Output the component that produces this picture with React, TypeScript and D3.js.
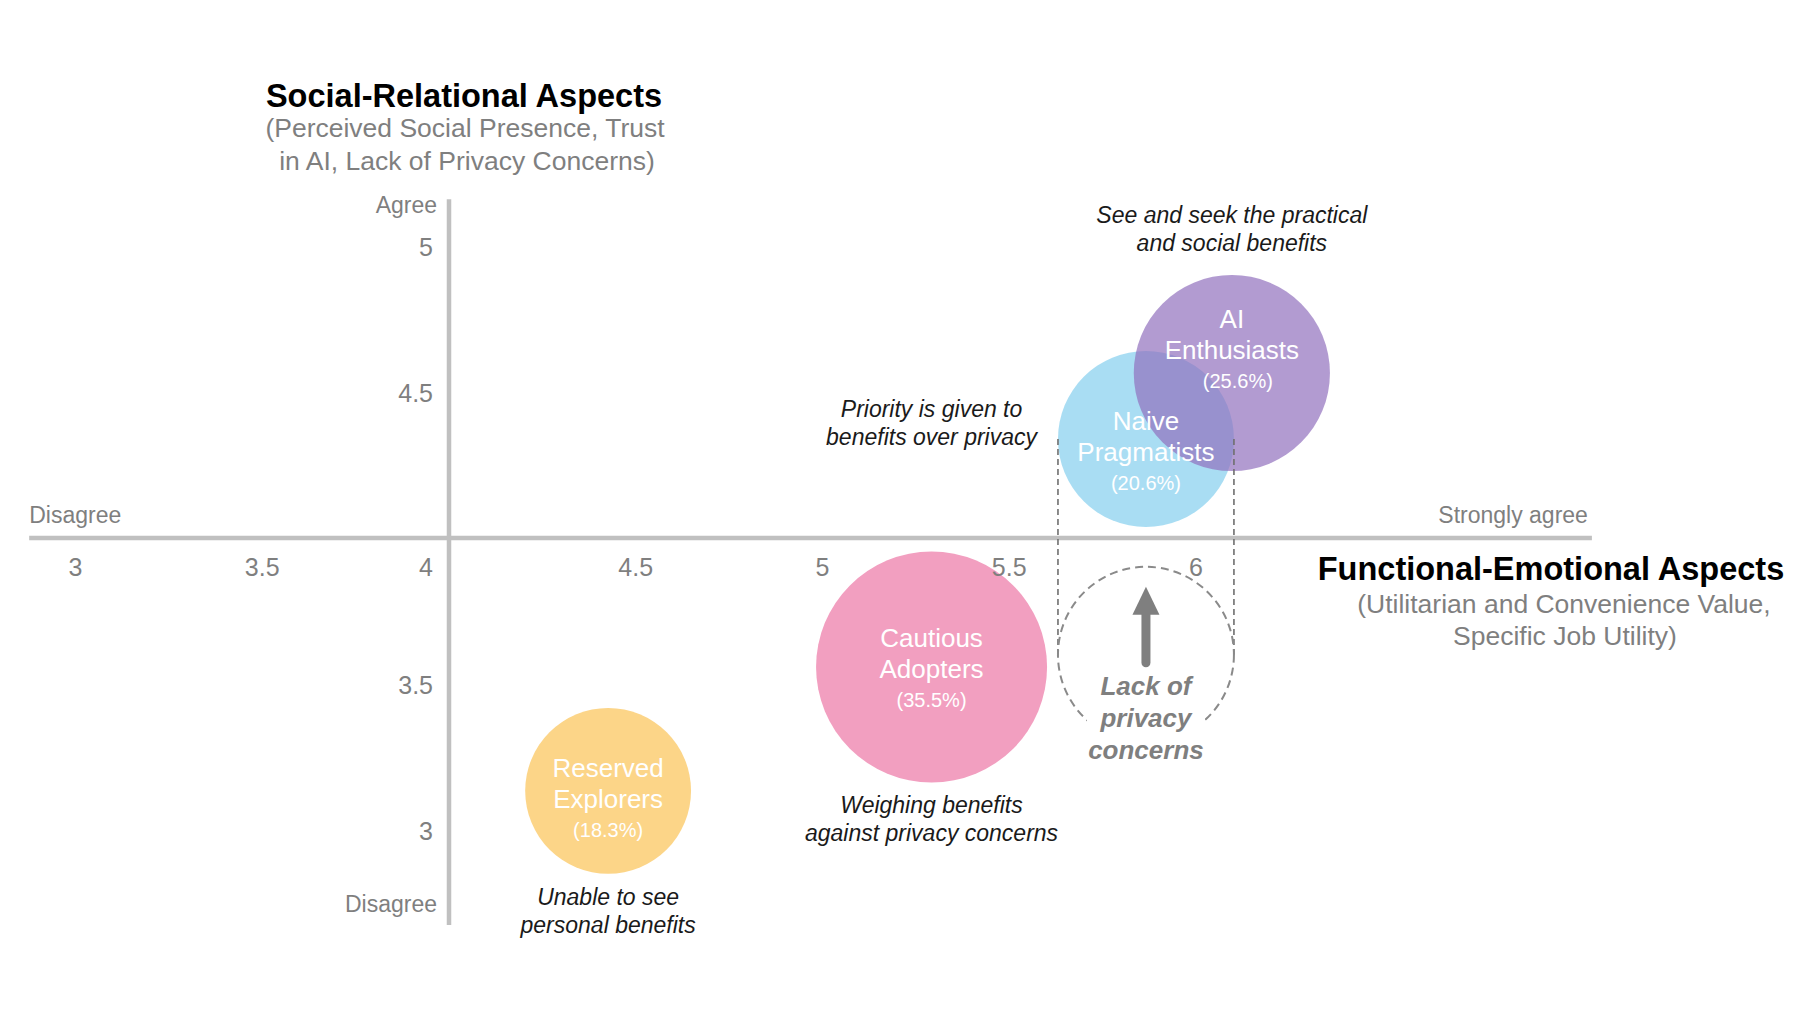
import React from "react";
import * as d3 from "d3";

// ---------- data ----------
const segmentNames = ["AI Enthusiasts", "Naive Pragmatists", "Cautious Adopters", "Reserved Explorers"];
const segmentNameLines = [["AI", "Enthusiasts"], ["Naive", "Pragmatists"], ["Cautious", "Adopters"], ["Reserved", "Explorers"]];
const functionalEmotional = [6.096, 5.866, 5.292, 4.426];
const socialRelational = [4.565, 4.339, 3.558, 3.134];
const segmentShares = [25.6, 20.6, 35.5, 18.3];
const segmentColors = ["rgb(146,112,189)", "rgb(132,206,238)", "#f29fc0", "#fcd588"];
const segmentOpacity = [0.7, 0.7, 1, 1];
const drawOrder = [1, 0, 2, 3];

const xTicks = [3, 3.5, 4, 4.5, 5, 5.5, 6];
const yTicks = [3, 3.5, 4.5, 5];
const privacyTarget = 3.6; // social-relational level of the dashed "lack of privacy concerns" circle

const annotationLines = [
  ["See and seek the practical", "and social benefits"],
  ["Priority is given to", "benefits over privacy"],
  ["Weighing benefits", "against privacy concerns"],
  ["Unable to see", "personal benefits"],
];

// ---------- layout ----------
const W = 1814;
const H = 1020;
const FONT = "'Liberation Sans', Arial, Helvetica, sans-serif";
const GRAY = "#7f7f7f";
const AXIS = "#c0c0c0";

const x = d3.scaleLinear().domain([3, 6]).range([75.5, 1196]);
const y = d3.scaleLinear().domain([3, 5]).range([830, 246]);
const r = d3.scaleSqrt().domain([0, 35.5]).range([0, 115.5]);
const xAxisExtent = [2.876, 7.06];
const yAxisExtent = [2.675, 5.16];

// first-line baseline offset of bubble labels relative to bubble centre
const labelDy = [-45, -9, -20, -14];
// annotation anchors (data coordinates) and first baseline offsets
const annotationAnchor = [
  { fx: 6.096, py: 223 },
  { fx: 5.292, py: 417 },
  { fx: 5.292, py: 813 },
  { fx: 4.426, py: 905 },
];

export default function App() {
  const ax = x(4);
  const ay = y(4);
  const nx = x(functionalEmotional[1]);
  const nyTop = y(socialRelational[1]);
  const nr = r(segmentShares[1]);
  const dcy = y(privacyTarget);

  return (
    <svg
      width={W}
      height={H}
      viewBox={`0 0 ${W} ${H}`}
      style={{ position: "fixed", left: 0, top: 0, display: "block", background: "#fff" }}
      fontFamily={FONT}
    >
      <rect x={0} y={0} width={W} height={H} fill="#fff" />

      {/* axes */}
      <line x1={x(xAxisExtent[0])} x2={x(xAxisExtent[1])} y1={ay} y2={ay} stroke={AXIS} strokeWidth={4.5} />
      <line x1={ax} x2={ax} y1={y(yAxisExtent[1])} y2={y(yAxisExtent[0])} stroke={AXIS} strokeWidth={4.5} />

      {/* bubbles */}
      {drawOrder.map((i) => (
        <circle
          key={segmentNames[i]}
          cx={x(functionalEmotional[i])}
          cy={y(socialRelational[i])}
          r={r(segmentShares[i])}
          fill={segmentColors[i]}
          fillOpacity={segmentOpacity[i]}
        />
      ))}

      {/* dashed privacy shift shape */}
      <line x1={nx - nr} x2={nx - nr} y1={nyTop} y2={dcy} stroke="#6f6f6f" strokeWidth={1.6} strokeDasharray="6 4" />
      <line x1={nx + nr} x2={nx + nr} y1={nyTop} y2={dcy} stroke="#6f6f6f" strokeWidth={1.6} strokeDasharray="6 4" />
      <circle cx={nx} cy={dcy} r={nr} fill="none" stroke="#8a8a8a" strokeWidth={2} strokeDasharray="8 5" />
      <rect x={nx - 59} y={dcy + 52} width={118} height={60} fill="#fff" />

      {/* arrow */}
      <line x1={nx} x2={nx} y1={dcy + 8} y2={dcy - 44} stroke={GRAY} strokeWidth={9} strokeLinecap="round" />
      <path d={d3.line()([[nx, dcy - 68], [nx + 13.5, dcy - 40], [nx - 13.5, dcy - 40]]) + "Z"} fill={GRAY} />
      <g fontSize={26} fontWeight="bold" fontStyle="italic" fill={GRAY} textAnchor="middle">
        <text x={nx} y={dcy + 40}>Lack of</text>
        <text x={nx} y={dcy + 72}>privacy</text>
        <text x={nx} y={dcy + 104}>concerns</text>
      </g>

      {/* bubble labels */}
      {drawOrder.map((i) => {
        const cx = x(functionalEmotional[i]);
        const cy = y(socialRelational[i]) + labelDy[i];
        return (
          <g key={"lab" + i} fill="#fff" textAnchor="middle">
            <text x={cx} y={cy} fontSize={26}>{segmentNameLines[i][0]}</text>
            <text x={cx} y={cy + 31} fontSize={26}>{segmentNameLines[i][1]}</text>
            <text x={cx + (i === 0 ? 6 : 0)} y={cy + 60} fontSize={20}>{`(${segmentShares[i]}%)`}</text>
          </g>
        );
      })}

      {/* tick labels */}
      <g fontSize={25} fill={GRAY}>
        {xTicks.map((t) => (
          <text
            key={"x" + t}
            x={t === 4 ? ax - 16 : x(t)}
            y={ay + 38}
            textAnchor={t === 4 ? "end" : "middle"}
          >
            {String(t)}
          </text>
        ))}
        {yTicks.map((t) => (
          <text key={"y" + t} x={ax - 16} y={y(t) + 10} textAnchor="end">
            {String(t)}
          </text>
        ))}
      </g>

      {/* axis end labels */}
      <g fontSize={23} fill={GRAY}>
        <text x={ax - 12} y={213} textAnchor="end">Agree</text>
        <text x={ax - 12} y={912} textAnchor="end">Disagree</text>
        <text x={x(xAxisExtent[0])} y={ay - 15} textAnchor="start">Disagree</text>
        <text x={x(xAxisExtent[1]) - 4} y={ay - 15} textAnchor="end">Strongly agree</text>
      </g>

      {/* axis titles */}
      <g textAnchor="middle">
        <text x={464} y={107} fontSize={32.5} fontWeight="bold" fill="#000">Social-Relational Aspects</text>
        <text x={465} y={137} fontSize={26.5} fill={GRAY}>(Perceived Social Presence, Trust</text>
        <text x={467} y={170} fontSize={26.5} fill={GRAY}>in AI, Lack of Privacy Concerns)</text>
        <text x={1551} y={580} fontSize={32.5} fontWeight="bold" fill="#000">Functional-Emotional Aspects</text>
        <text x={1564} y={613} fontSize={26.5} fill={GRAY}>(Utilitarian and Convenience Value,</text>
        <text x={1565} y={645} fontSize={26.5} fill={GRAY}>Specific Job Utility)</text>
      </g>

      {/* annotations */}
      <g fontSize={23} fontStyle="italic" fill="#1a1a1a" textAnchor="middle">
        {annotationLines.map((lines, i) =>
          lines.map((line, j) => (
            <text key={"a" + i + j} x={x(annotationAnchor[i].fx)} y={annotationAnchor[i].py + j * 28}>
              {line}
            </text>
          ))
        )}
      </g>
    </svg>
  );
}
